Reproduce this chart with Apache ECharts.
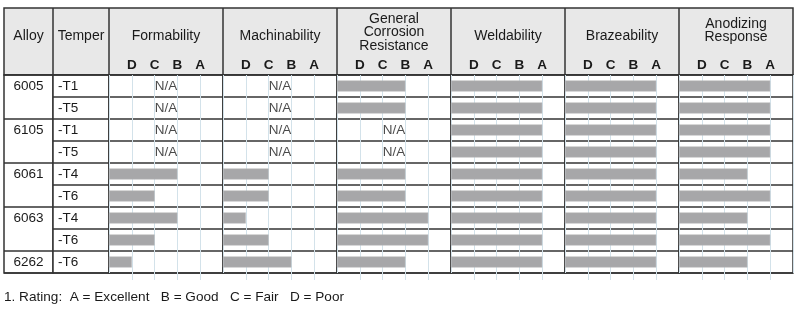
<!DOCTYPE html>
<html><head><meta charset="utf-8">
<script src="https://cdn.jsdelivr.net/npm/echarts@6/dist/echarts.min.js"></script>
<style>html,body{margin:0;padding:0;background:#fff}#c{width:800px;height:315px}</style>
</head><body><div id="c"></div>
<script>
// ---- data ----
const properties = ['Formability', 'Machinability', 'General\nCorrosion\nResistance', 'Weldability', 'Brazeability', 'Anodizing\nResponse'];
const alloys = ['6005', '', '6105', '', '6061', '', '6063', '', '6262'];
const tempers = ['-T1', '-T5', '-T1', '-T5', '-T4', '-T6', '-T4', '-T6', '-T6'];
const ratingLetters = ['', 'D', 'C', 'B', 'A', ''];
// rating: 1 = D, 2 = C, 3 = B, 4 = A, null = N/A
const formability   = [null, null, null, null, 3, 2, 3, 2, 1];
const machinability = [null, null, null, null, 2, 2, 1, 2, 3];
const corrosion     = [3, 3, null, null, 3, 3, 4, 4, 3];
const weldability   = [4, 4, 4, 4, 4, 4, 4, 4, 4];
const brazeability  = [4, 4, 4, 4, 4, 4, 4, 4, 4];
const anodizing     = [4, 4, 4, 4, 3, 4, 3, 4, 3];
const footnote = '1. Rating:  A = Excellent   B = Good   C = Fair   D = Poor';

const values = [formability, machinability, corrosion, weldability, brazeability, anodizing];

// ---- layout ----
const L = {left: 4, alloyW: 49, temperW: 56, colW: 114, top: 8, headBottom: 75, rowH: 22};
const nameGaps = [32, 32, 17, 32, 32, 31];
const FONT = '"Liberation Sans", Arial, sans-serif';
const TXT = '#1a1a1a';
const BORDER = '#333';
const GRIDC = '#d3e2ea';

let cur = '';
const rowIds = tempers.map((t, i) => { if (alloys[i]) cur = alloys[i]; return cur + t; });
const bodyH = tempers.length * L.rowH;
const dataLeft = L.left + L.alloyW + L.temperW;
const rightEdge = dataLeft + L.colW * properties.length;

const grids = [], xAxes = [], yAxes = [], series = [];
function baseGrid(left, width) {
  return {left: left, top: L.headBottom, width: width, height: bodyH, show: true,
          borderColor: BORDER, borderWidth: 1.5, backgroundColor: '#fff', containLabel: false};
}
function headerX(gi, name, gap) {
  return {gridIndex: gi, type: 'value', position: 'top', min: 0, max: 1,
          axisLine: {show: false}, axisTick: {show: false}, axisLabel: {show: false}, splitLine: {show: false},
          name: name, nameLocation: 'middle', nameGap: gap,
          nameTextStyle: {fontFamily: FONT, fontSize: 14, color: TXT, verticalAlign: 'bottom'}};
}
// Alloy column
grids.push(baseGrid(L.left, L.alloyW));
xAxes.push(headerX(0, 'Alloy', 32));
yAxes.push({gridIndex: 0, type: 'category', data: rowIds, inverse: true,
  axisLine: {show: false}, axisTick: {show: false},
  axisLabel: {margin: -L.alloyW / 2, align: 'center', fontFamily: FONT, fontSize: 13.5, color: TXT,
              formatter: (v, i) => alloys[i]},
  splitLine: {show: true, interval: (i) => alloys[i] !== '' && alloys[i] !== undefined, lineStyle: {color: BORDER, width: 1.5}}});
// Temper column
grids.push(baseGrid(L.left + L.alloyW, L.temperW));
xAxes.push(headerX(1, 'Temper', 32));
yAxes.push({gridIndex: 1, type: 'category', data: rowIds, inverse: true,
  axisLine: {show: false}, axisTick: {show: false},
  axisLabel: {margin: -5, align: 'left', fontFamily: FONT, fontSize: 13.5, color: TXT,
              formatter: (v, i) => tempers[i]},
  splitLine: {show: true, interval: 0, lineStyle: {color: BORDER, width: 1.5}}});

properties.forEach((p, k) => {
  const gi = grids.length;
  grids.push(baseGrid(dataLeft + k * L.colW, L.colW));
  const xTop = xAxes.length;
  xAxes.push({gridIndex: gi, type: 'value', position: 'top', min: 0, max: 5, interval: 1,
    axisLine: {show: false}, axisTick: {show: false},
    axisLabel: {margin: 3, fontFamily: FONT, fontSize: 13.5, fontWeight: 'bold', color: TXT,
                formatter: v => ratingLetters[v] || ''},
    splitLine: {show: true, lineStyle: {color: GRIDC, width: 1}},
    name: p, nameLocation: 'middle', nameGap: nameGaps[k],
    nameTextStyle: {fontFamily: FONT, fontSize: 14, color: TXT, verticalAlign: 'bottom', lineHeight: 13.5}});
  xAxes.push({gridIndex: gi, type: 'value', position: 'bottom', min: 0, max: 5, interval: 1,
    axisLine: {show: false}, axisLabel: {show: false}, splitLine: {show: false},
    axisTick: {show: true, length: 7, customValues: [1, 2, 3, 4], lineStyle: {color: GRIDC}}});
  const yi = yAxes.length;
  yAxes.push({gridIndex: gi, type: 'category', data: rowIds, inverse: true,
    axisLine: {show: false}, axisTick: {show: false}, axisLabel: {show: false},
    splitLine: {show: true, interval: 0, lineStyle: {color: BORDER, width: 1.5}}});
  series.push({type: 'bar', xAxisIndex: xTop, yAxisIndex: yi, data: values[k], barWidth: 11,
    itemStyle: {color: '#a7a7a9', borderColor: '#b8b8ba', borderWidth: 0.5}, silent: true, animation: false});
  series.push({type: 'scatter', xAxisIndex: xTop, yAxisIndex: yi, symbolSize: 0, silent: true, animation: false,
    data: values[k].map((v, i) => v == null ? [2.5, rowIds[i]] : null).filter(d => d),
    label: {show: true, position: 'inside', formatter: 'N/A', fontFamily: FONT, fontSize: 13.5, color: TXT}});
});

// header background + header column separators
const graphics = [{type: 'rect', z: -10, shape: {x: L.left, y: L.top, width: rightEdge - L.left, height: L.headBottom - L.top},
  style: {fill: '#e8e8e8', stroke: BORDER, lineWidth: 1.5}}];
const seps = [L.left + L.alloyW, dataLeft];
properties.forEach((p, k) => { if (k > 0) seps.push(dataLeft + k * L.colW); });
seps.forEach(x => graphics.push({type: 'line', z: -9, shape: {x1: x, y1: L.top, x2: x, y2: L.headBottom},
  style: {stroke: BORDER, lineWidth: 1.5}}));

const chart = echarts.init(document.getElementById('c'), null, {renderer: 'canvas'});
chart.setOption({
  animation: false,
  title: {text: footnote, left: L.left - 5, top: 285, textStyle: {fontFamily: FONT, fontSize: 13.6, fontWeight: 'normal', color: TXT}},
  grid: grids, xAxis: xAxes, yAxis: yAxes, series: series, graphic: graphics
});
</script></body></html>
